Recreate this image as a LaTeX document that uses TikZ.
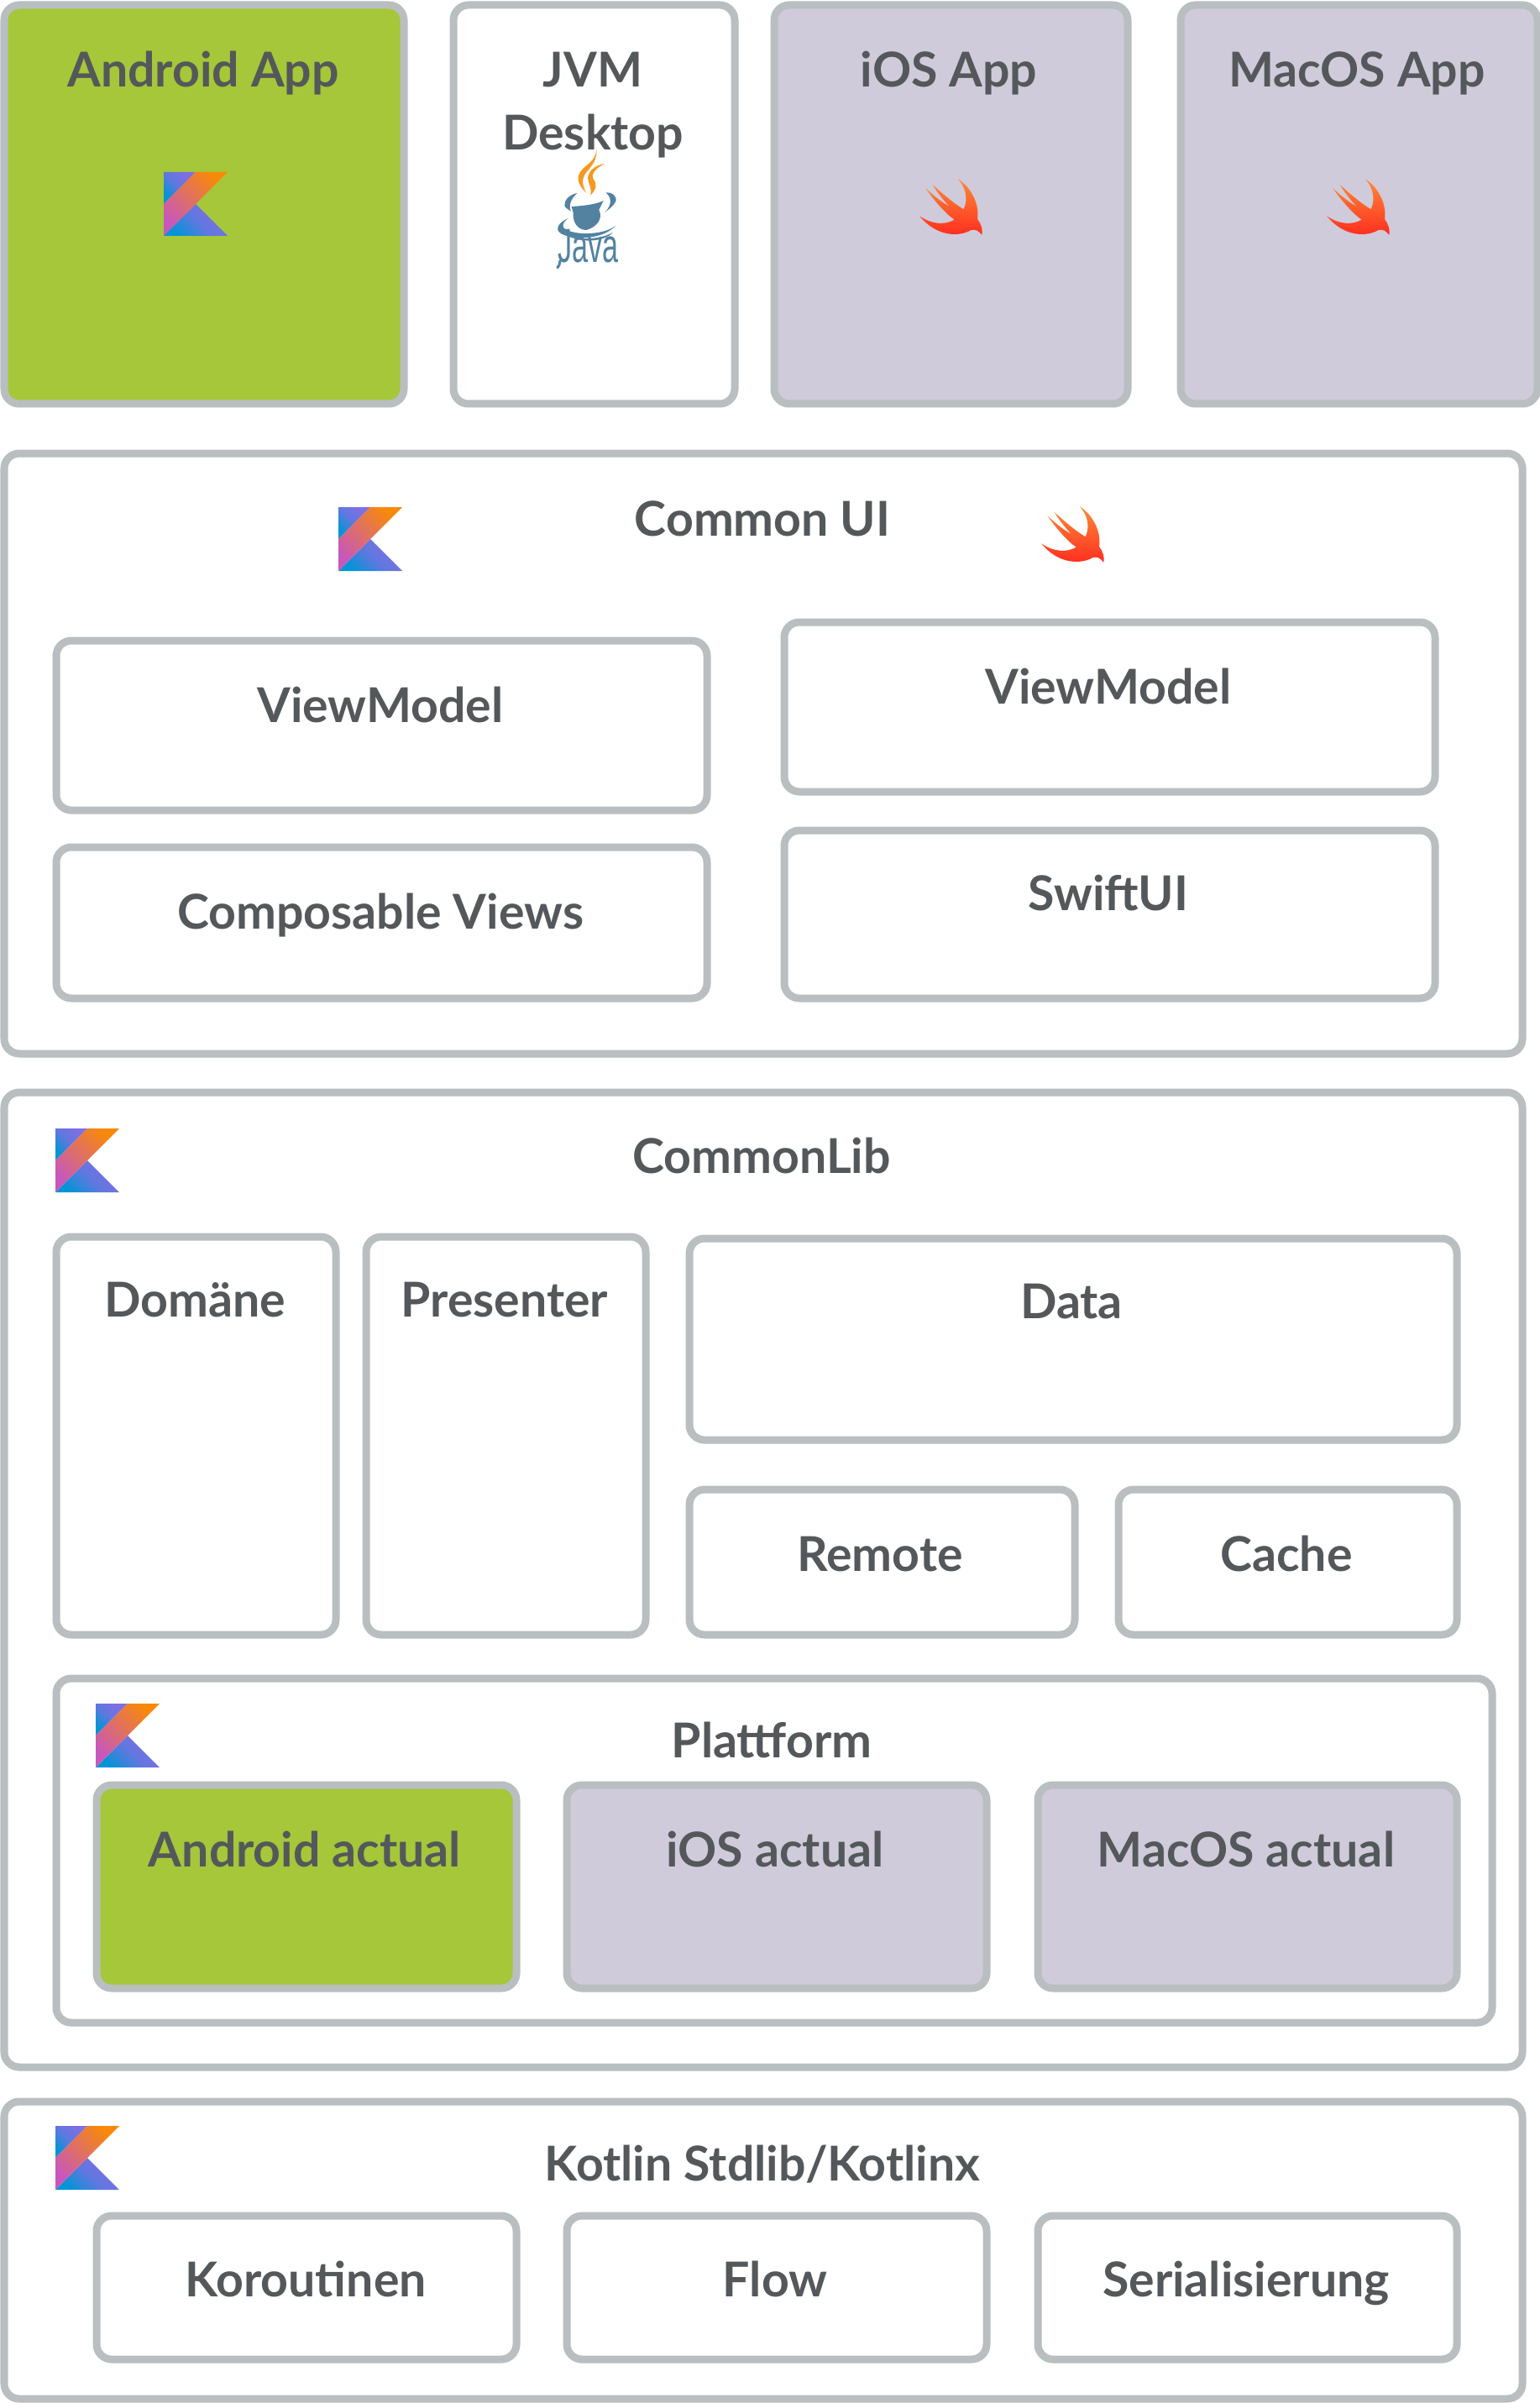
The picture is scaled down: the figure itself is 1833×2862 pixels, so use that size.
\documentclass[tikz,border=0pt]{standalone}
\usepackage{fontspec}
\setmainfont{Lato}
\newfontfamily\javafont{Liberation Sans}
\definecolor{edge}{HTML}{B9BEC0}
\definecolor{txt}{HTML}{54585A}
\definecolor{droid}{HTML}{A5C739}
\definecolor{apple}{HTML}{CFCBDB}
\definecolor{korange}{HTML}{F88909}
\definecolor{kpink}{HTML}{C757BC}
\definecolor{kblue}{HTML}{0095D5}
\definecolor{kpurple}{HTML}{806EE3}
\definecolor{jblue}{HTML}{5382A1}
\definecolor{jorange}{HTML}{F89820}
\definecolor{swifttop}{HTML}{FE8B38}
\definecolor{swiftbot}{HTML}{FE2A1E}
\tikzset{
  boxed/.style={draw=edge,line width=4.5pt,rounded corners=9pt,inner sep=0pt,outer sep=0pt},
  lab/.style={anchor=base,text=txt,inner sep=0pt,font=\fontsize{28.6}{28.6}\selectfont\bfseries},
  diagshade/.style 2 args={top color=#2,bottom color=#1,shading angle=-45},
  bluepurple/.style={top color=kpurple,bottom color=kblue,middle color=kpurple!75!kblue,shading angle=-45}
}
% name, x1,y1,x2,y2 (outer edges in reference pixels), fill
\newcommand{\bx}[6]{%
  \pgfmathsetmacro{\bw}{(#4-#2-6)*0.5}%
  \pgfmathsetmacro{\bh}{(#5-#3-6)*0.5}%
  \node[boxed,fill=#6,minimum width=\bw pt,minimum height=\bh pt] (#1) at ({(#2+#4)/2},{(#3+#5)/2}) {};%
}
\newcommand{\lb}[4]{\node[lab] (#1) at (#2,#3) {#4};}
\newcommand{\kotlinlogo}[2]{%
  \begin{scope}[shift={(#1,#2)}]
    \shade[bluepurple] (0,0) -- (38,0) -- (0,38) -- cycle;
    \shade[bluepurple] (0,76) -- (38,38) -- (76,76) -- cycle;
    \shade[diagshade={kpink}{korange}] (38,0) -- (76,0) -- (38,38) -- (0,76) -- (0,38) -- cycle;
  \end{scope}}
\newcommand{\swiftlogo}[2]{%
  \begin{scope}[shift={(#1,#2)},scale=1/3]
    \shade[top color=swifttop,bottom color=swiftbot]
      (243,100) .. controls (290,130) and (320,190) .. (312,243)
      .. controls (325,260) and (332,280) .. (328,300)
      .. controls (318,285) and (305,278) .. (290,282)
      .. controls (250,305) and (170,310) .. (105,232)
      .. controls (150,262) and (195,265) .. (230,245)
      .. controls (200,225) and (160,180) .. (127,132)
      .. controls (160,165) and (190,185) .. (212,198)
      .. controls (195,180) and (170,150) .. (152,120)
      .. controls (185,150) and (225,185) .. (263,208)
      .. controls (280,170) and (270,130) .. (243,100) -- cycle;
  \end{scope}}
\begin{document}
\begin{tikzpicture}[x=0.5pt,y=-0.5pt]
\useasboundingbox (0,0) rectangle (1833,2862);
\fill[white] (0,0) rectangle (1833,2862);
% top row
\bx{android}{2}{3}{484}{484}{droid}
\bx{jvm}{537}{3}{878}{484}{white}
\bx{ios}{919}{3}{1346}{484}{apple}
\bx{macos}{1403}{3}{1834}{484}{apple}
\lb{tandroid}{242}{104}{Android App}
\lb{tjvm}{706}{104}{JVM}
\lb{tdesk}{706}{179}{Desktop}
\lb{tios}{1130}{104}{iOS App}
\lb{tmac}{1616}{104}{MacOS App}
\kotlinlogo{195}{205}
\swiftlogo{1060}{180}
\swiftlogo{1545}{180}
% java logo
\begin{scope}[shift={(640,170)},scale=1/3]
  \fill[jorange] (210,15) .. controls (215,50) and (190,70) .. (165,90)
     .. controls (140,115) and (135,140) .. (175,180)
     .. controls (155,145) and (160,120) .. (180,100)
     .. controls (205,70) and (215,50) .. (210,15) -- cycle;
  \fill[jorange] (240,75) .. controls (210,80) and (185,95) .. (180,125)
     .. controls (180,140) and (195,160) .. (190,188)
     .. controls (210,165) and (215,150) .. (200,130)
     .. controls (190,110) and (210,90) .. (240,75) -- cycle;
  \fill[jblue] (122,228) .. controls (170,225) and (210,220) .. (236,207)
     -- (220,240) .. controls (235,270) and (215,300) .. (175,312)
     .. controls (145,312) and (125,285) .. (128,250) -- cycle;
  \fill[jblue] (142,180) .. controls (115,185) and (95,205) .. (97,225)
     .. controls (100,235) and (115,240) .. (120,245)
     .. controls (110,225) and (120,200) .. (142,180) -- cycle;
  \fill[jblue] (245,178) .. controls (265,175) and (285,190) .. (280,210)
     .. controls (270,230) and (250,240) .. (240,250)
     .. controls (255,235) and (275,205) .. (245,178) -- cycle;
  \fill[jblue] (110,270) .. controls (75,285) and (60,310) .. (85,325)
     .. controls (130,350) and (240,345) .. (280,295)
     .. controls (250,325) and (150,335) .. (100,310)
     .. controls (85,300) and (90,285) .. (110,270) -- cycle;
  \fill[jblue] (105,330) .. controls (150,350) and (230,345) .. (270,320)
     .. controls (240,355) and (150,360) .. (105,330) -- cycle;
  \fill[jblue] (84,420) .. controls (86,435) and (80,445) .. (72,452)
     -- (67,444) .. controls (74,440) and (76,432) .. (76,420) -- cycle;
\end{scope}
\node[anchor=base west,inner sep=0pt,text=jblue,xscale=0.6] (tjava) at (664,313) {\javafont\fontsize{28.5}{28.5}\selectfont Java};
% common ui
\bx{commonui}{2}{537}{1816}{1258}{white}
\lb{tcommonui}{908}{638}{Common UI}
\kotlinlogo{403}{604}
\swiftlogo{1205}{570}
\bx{vml}{64}{760}{845}{968}{white}
\lb{tvml}{453}{860}{ViewModel}
\bx{comp}{64}{1006}{845}{1192}{white}
\lb{tcomp}{453}{1106}{Composable Views}
\bx{vmr}{931}{738}{1712}{946}{white}
\lb{tvmr}{1320}{838}{ViewModel}
\bx{swiftui}{931}{986}{1712}{1192}{white}
\lb{tswiftui}{1320}{1084}{SwiftUI}
% common lib
\bx{commonlib}{2}{1298}{1816}{2465}{white}
\lb{tcommonlib}{907}{1397}{CommonLib}
\kotlinlogo{66}{1344}
\bx{domaene}{64}{1470}{403}{1950}{white}
\lb{tdomaene}{232}{1568}{Domäne}
\bx{presenter}{433}{1470}{772}{1950}{white}
\lb{tpresenter}{601}{1568}{Presenter}
\bx{data}{818}{1472}{1738}{1718}{white}
\lb{tdata}{1276}{1570}{Data}
\bx{remote}{818}{1771}{1283}{1950}{white}
\lb{tremote}{1048}{1871}{Remote}
\bx{cache}{1329}{1771}{1738}{1950}{white}
\lb{tcache}{1532}{1871}{Cache}
\bx{plattform}{64}{1996}{1780}{2412}{white}
\lb{tplattform}{919}{2093}{Plattform}
\kotlinlogo{114}{2029}
\bx{aact}{112}{2123}{618}{2371}{droid}
\lb{taact}{363}{2223}{Android actual}
\bx{iact}{672}{2123}{1178}{2371}{apple}
\lb{tiact}{923}{2223}{iOS actual}
\bx{mact}{1233}{2123}{1738}{2371}{apple}
\lb{tmact}{1484}{2223}{MacOS actual}
% kotlin stdlib
\bx{stdlib}{2}{2500}{1816}{2860}{white}
\lb{tstdlib}{908}{2597}{Kotlin Stdlib/Kotlinx}
\kotlinlogo{66}{2532}
\bx{koro}{112}{2636}{618}{2813}{white}
\lb{tkoro}{364}{2735}{Koroutinen}
\bx{flow}{672}{2636}{1178}{2813}{white}
\lb{tflow}{923}{2735}{Flow}
\bx{seri}{1233}{2636}{1738}{2813}{white}
\lb{tseri}{1484}{2735}{Serialisierung}
\end{tikzpicture}
\end{document}
